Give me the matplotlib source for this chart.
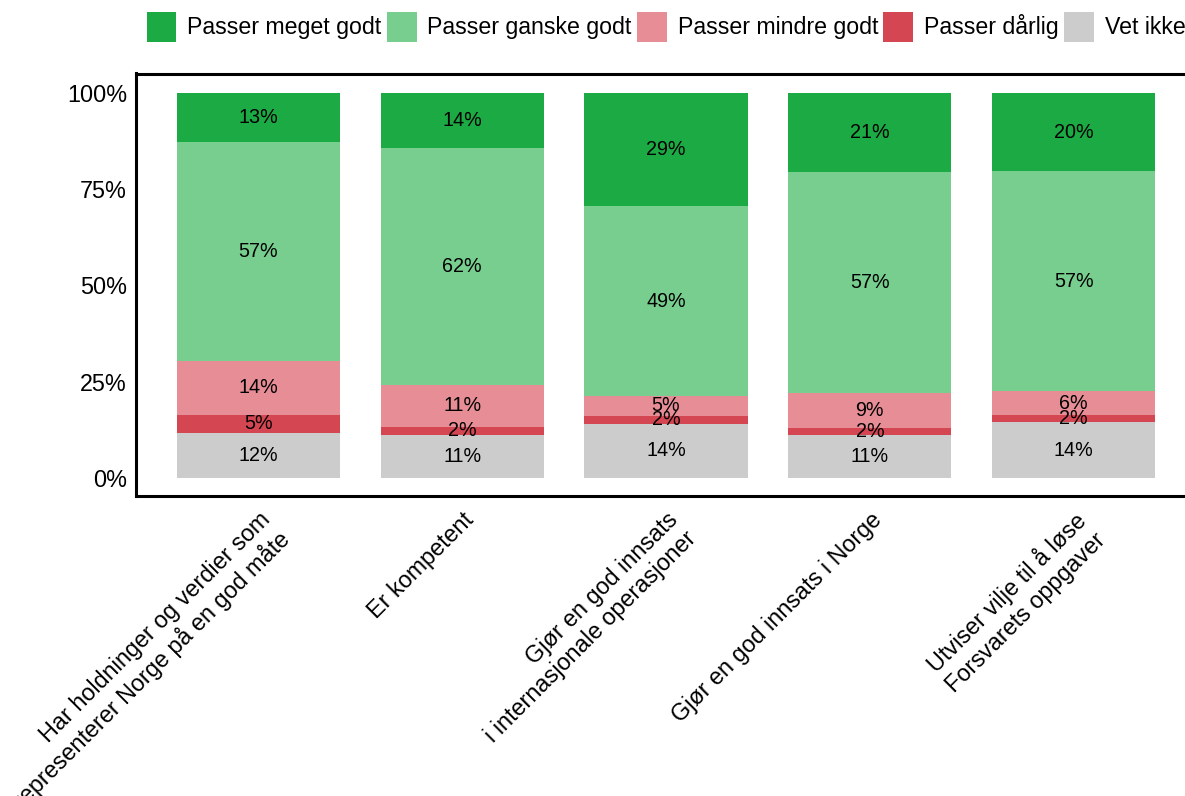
import numpy as np
import matplotlib
matplotlib.use("Agg")
import matplotlib.pyplot as plt

plt.rcParams['font.family'] = ['Liberation Sans', 'DejaVu Sans']

categories = [
    "Har holdninger og verdier som\nrepresenterer Norge på en god måte",
    "Er kompetent",
    "Gjør en god innsats\ni internasjonale operasjoner",
    "Gjør en god innsats i Norge",
    "Utviser vilje til å løse\nForsvarets oppgaver",
]

# stacked bottom -> top
series = ["Vet ikke", "Passer dårlig", "Passer mindre godt", "Passer ganske godt", "Passer meget godt"]
vet_ikke = [11.7, 11.2, 14.0, 11.2, 14.4]
darlig = [4.7, 2.0, 2.1, 1.8, 1.9]
mindre_godt = [14.0, 11.0, 5.2, 9.1, 6.2]
ganske_godt = [56.9, 61.6, 49.3, 57.3, 57.2]
meget_godt = [12.7, 14.2, 29.4, 20.6, 20.3]
colors = ["#CCCCCC", "#D54653", "#E68D95", "#77CE8E", "#1BAA43"]

values = [vet_ikke, darlig, mindre_godt, ganske_godt, meget_godt]

W, H = 1185, 796
fig = plt.figure(figsize=(W / 100, H / 100), dpi=100)
ax = fig.add_axes([136 / W, 1 - 495.5 / H, (1196 - 136) / W, (495.5 - 73.5) / H])

x = np.arange(len(categories))
bottom = np.zeros(len(categories))
handles = {}
for name, vals, c in zip(series, values, colors):
    vals = np.array(vals)
    bars = ax.bar(x, vals, 0.8, bottom=bottom, color=c, label=name)
    handles[name] = bars
    for xi, b, v in zip(x, bottom, vals):
        ax.text(xi, b + v / 2, f"{v:.0f}%", ha="center", va="center", fontsize=14.2)
    bottom += vals

ax.set_xlim(-0.6, 4.6)
ax.set_ylim(-4.6, 105.1)
ax.set_yticks([0, 25, 50, 75, 100])
ax.set_yticklabels(["0%", "25%", "50%", "75%", "100%"], fontsize=16.8)
ax.set_xticks(x)
ax.set_xticklabels(categories, rotation=45, ha="right", va="top", rotation_mode="anchor",
                   fontsize=16.8, multialignment="right")
ax.tick_params(axis="both", length=0)
ax.tick_params(axis="y", pad=6.5)
ax.tick_params(axis="x", pad=9)
for s in ax.spines.values():
    s.set_linewidth(2.2)
    s.set_color("black")

order = ["Passer meget godt", "Passer ganske godt", "Passer mindre godt", "Passer dårlig", "Vet ikke"]
fig.legend([handles[n] for n in order], order, loc="center left",
           bbox_to_anchor=(146.5 / W, 1 - 26.7 / H), ncol=5, frameon=False,
           fontsize=16.7, handlelength=1.29, handleheight=1.61, handletextpad=0.47,
           columnspacing=0.22, borderpad=0, borderaxespad=0)

fig.savefig("out.png", dpi=100)
